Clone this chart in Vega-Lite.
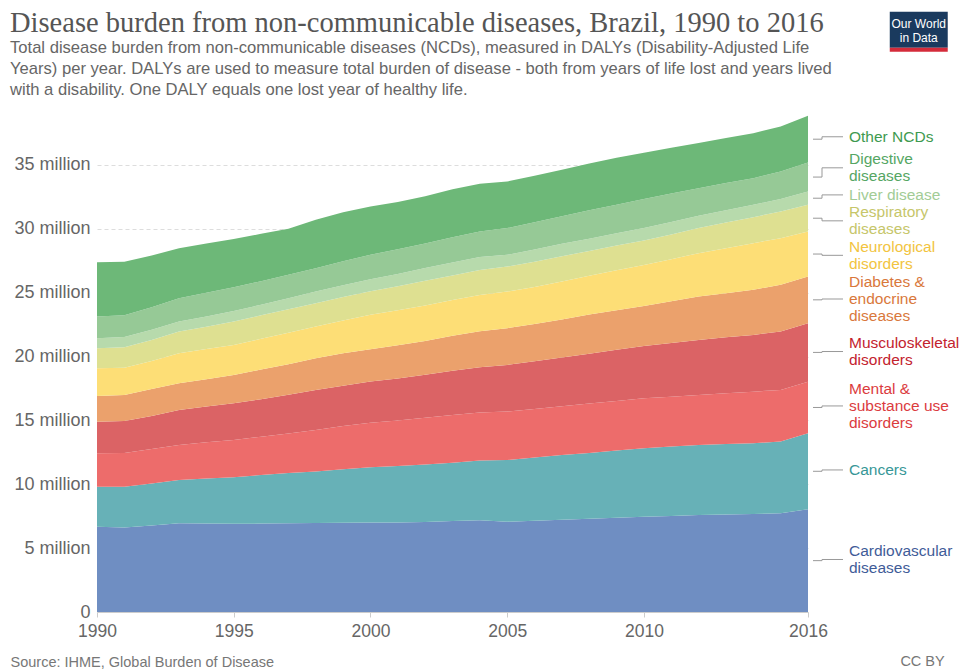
{
  "$schema": "https://vega.github.io/schema/vega-lite/v6.json",
  "width": 711,
  "height": 511,
  "autosize": {"type": "none"},
  "padding": {"left": 97, "top": 101, "right": 154, "bottom": 57},
  "background": "white",
  "config": {"view": {"stroke": null}, "font": "Liberation Sans"},
  "title": {
    "text": "Disease burden from non-communicable diseases, Brazil, 1990 to 2016",
    "subtitle": [
      "Total disease burden from non-communicable diseases (NCDs), measured in DALYs (Disability-Adjusted Life",
      "Years) per year. DALYs are used to measure total burden of disease - both from years of life lost and years lived",
      "with a disability. One DALY equals one lost year of healthy life."
    ],
    "anchor": "start",
    "frame": "group",
    "dx": -87,
    "dy": 93,
    "offset": 6,
    "font": "Liberation Serif",
    "fontSize": 28.5,
    "fontWeight": "normal",
    "color": "#555555",
    "subtitleFont": "Liberation Sans",
    "subtitleFontSize": 16.6,
    "subtitleColor": "#666666",
    "subtitleLineHeight": 21,
    "subtitlePadding": 3
  },
  "datasets": {
    "burden": [
      {"year":1990,"cause":"Cardiovascular diseases","dalys":6.68},{"year":1990,"cause":"Cancers","dalys":3.13},{"year":1990,"cause":"Mental & substance use disorders","dalys":2.62},{"year":1990,"cause":"Musculoskeletal disorders","dalys":2.47},{"year":1990,"cause":"Diabetes & endocrine diseases","dalys":2.01},{"year":1990,"cause":"Neurological disorders","dalys":2.17},{"year":1990,"cause":"Respiratory diseases","dalys":1.57},{"year":1990,"cause":"Liver disease","dalys":0.78},{"year":1990,"cause":"Digestive diseases","dalys":1.70},{"year":1990,"cause":"Other NCDs","dalys":4.25},
      {"year":1991,"cause":"Cardiovascular diseases","dalys":6.62},{"year":1991,"cause":"Cancers","dalys":3.18},{"year":1991,"cause":"Mental & substance use disorders","dalys":2.65},{"year":1991,"cause":"Musculoskeletal disorders","dalys":2.50},{"year":1991,"cause":"Diabetes & endocrine diseases","dalys":2.03},{"year":1991,"cause":"Neurological disorders","dalys":2.14},{"year":1991,"cause":"Respiratory diseases","dalys":1.60},{"year":1991,"cause":"Liver disease","dalys":0.80},{"year":1991,"cause":"Digestive diseases","dalys":1.70},{"year":1991,"cause":"Other NCDs","dalys":4.20},
      {"year":1992,"cause":"Cardiovascular diseases","dalys":6.78},{"year":1992,"cause":"Cancers","dalys":3.27},{"year":1992,"cause":"Mental & substance use disorders","dalys":2.70},{"year":1992,"cause":"Musculoskeletal disorders","dalys":2.60},{"year":1992,"cause":"Diabetes & endocrine diseases","dalys":2.10},{"year":1992,"cause":"Neurological disorders","dalys":2.20},{"year":1992,"cause":"Respiratory diseases","dalys":1.65},{"year":1992,"cause":"Liver disease","dalys":0.80},{"year":1992,"cause":"Digestive diseases","dalys":1.75},{"year":1992,"cause":"Other NCDs","dalys":4.05},
      {"year":1993,"cause":"Cardiovascular diseases","dalys":6.95},{"year":1993,"cause":"Cancers","dalys":3.39},{"year":1993,"cause":"Mental & substance use disorders","dalys":2.74},{"year":1993,"cause":"Musculoskeletal disorders","dalys":2.74},{"year":1993,"cause":"Diabetes & endocrine diseases","dalys":2.09},{"year":1993,"cause":"Neurological disorders","dalys":2.35},{"year":1993,"cause":"Respiratory diseases","dalys":1.69},{"year":1993,"cause":"Liver disease","dalys":0.78},{"year":1993,"cause":"Digestive diseases","dalys":1.83},{"year":1993,"cause":"Other NCDs","dalys":3.92},
      {"year":1994,"cause":"Cardiovascular diseases","dalys":6.92},{"year":1994,"cause":"Cancers","dalys":3.53},{"year":1994,"cause":"Mental & substance use disorders","dalys":2.83},{"year":1994,"cause":"Musculoskeletal disorders","dalys":2.80},{"year":1994,"cause":"Diabetes & endocrine diseases","dalys":2.14},{"year":1994,"cause":"Neurological disorders","dalys":2.36},{"year":1994,"cause":"Respiratory diseases","dalys":1.75},{"year":1994,"cause":"Liver disease","dalys":0.81},{"year":1994,"cause":"Digestive diseases","dalys":1.86},{"year":1994,"cause":"Other NCDs","dalys":3.85},
      {"year":1995,"cause":"Cardiovascular diseases","dalys":6.90},{"year":1995,"cause":"Cancers","dalys":3.65},{"year":1995,"cause":"Mental & substance use disorders","dalys":2.92},{"year":1995,"cause":"Musculoskeletal disorders","dalys":2.87},{"year":1995,"cause":"Diabetes & endocrine diseases","dalys":2.22},{"year":1995,"cause":"Neurological disorders","dalys":2.35},{"year":1995,"cause":"Respiratory diseases","dalys":1.82},{"year":1995,"cause":"Liver disease","dalys":0.84},{"year":1995,"cause":"Digestive diseases","dalys":1.86},{"year":1995,"cause":"Other NCDs","dalys":3.77},
      {"year":1996,"cause":"Cardiovascular diseases","dalys":6.92},{"year":1996,"cause":"Cancers","dalys":3.80},{"year":1996,"cause":"Mental & substance use disorders","dalys":3.00},{"year":1996,"cause":"Musculoskeletal disorders","dalys":2.94},{"year":1996,"cause":"Diabetes & endocrine diseases","dalys":2.32},{"year":1996,"cause":"Neurological disorders","dalys":2.40},{"year":1996,"cause":"Respiratory diseases","dalys":1.84},{"year":1996,"cause":"Liver disease","dalys":0.83},{"year":1996,"cause":"Digestive diseases","dalys":1.85},{"year":1996,"cause":"Other NCDs","dalys":3.70},
      {"year":1997,"cause":"Cardiovascular diseases","dalys":6.94},{"year":1997,"cause":"Cancers","dalys":3.94},{"year":1997,"cause":"Mental & substance use disorders","dalys":3.10},{"year":1997,"cause":"Musculoskeletal disorders","dalys":3.02},{"year":1997,"cause":"Diabetes & endocrine diseases","dalys":2.40},{"year":1997,"cause":"Neurological disorders","dalys":2.45},{"year":1997,"cause":"Respiratory diseases","dalys":1.85},{"year":1997,"cause":"Liver disease","dalys":0.85},{"year":1997,"cause":"Digestive diseases","dalys":1.85},{"year":1997,"cause":"Other NCDs","dalys":3.60},
      {"year":1998,"cause":"Cardiovascular diseases","dalys":6.97},{"year":1998,"cause":"Cancers","dalys":4.03},{"year":1998,"cause":"Mental & substance use disorders","dalys":3.25},{"year":1998,"cause":"Musculoskeletal disorders","dalys":3.13},{"year":1998,"cause":"Diabetes & endocrine diseases","dalys":2.49},{"year":1998,"cause":"Neurological disorders","dalys":2.47},{"year":1998,"cause":"Respiratory diseases","dalys":1.83},{"year":1998,"cause":"Liver disease","dalys":0.91},{"year":1998,"cause":"Digestive diseases","dalys":1.83},{"year":1998,"cause":"Other NCDs","dalys":3.79},
      {"year":1999,"cause":"Cardiovascular diseases","dalys":6.98},{"year":1999,"cause":"Cancers","dalys":4.20},{"year":1999,"cause":"Mental & substance use disorders","dalys":3.37},{"year":1999,"cause":"Musculoskeletal disorders","dalys":3.17},{"year":1999,"cause":"Diabetes & endocrine diseases","dalys":2.53},{"year":1999,"cause":"Neurological disorders","dalys":2.57},{"year":1999,"cause":"Respiratory diseases","dalys":1.83},{"year":1999,"cause":"Liver disease","dalys":0.93},{"year":1999,"cause":"Digestive diseases","dalys":1.87},{"year":1999,"cause":"Other NCDs","dalys":3.85},
      {"year":2000,"cause":"Cardiovascular diseases","dalys":7.00},{"year":2000,"cause":"Cancers","dalys":4.33},{"year":2000,"cause":"Mental & substance use disorders","dalys":3.49},{"year":2000,"cause":"Musculoskeletal disorders","dalys":3.22},{"year":2000,"cause":"Diabetes & endocrine diseases","dalys":2.53},{"year":2000,"cause":"Neurological disorders","dalys":2.69},{"year":2000,"cause":"Respiratory diseases","dalys":1.85},{"year":2000,"cause":"Liver disease","dalys":0.94},{"year":2000,"cause":"Digestive diseases","dalys":1.91},{"year":2000,"cause":"Other NCDs","dalys":3.78},
      {"year":2001,"cause":"Cardiovascular diseases","dalys":7.00},{"year":2001,"cause":"Cancers","dalys":4.42},{"year":2001,"cause":"Mental & substance use disorders","dalys":3.58},{"year":2001,"cause":"Musculoskeletal disorders","dalys":3.28},{"year":2001,"cause":"Diabetes & endocrine diseases","dalys":2.60},{"year":2001,"cause":"Neurological disorders","dalys":2.74},{"year":2001,"cause":"Respiratory diseases","dalys":1.88},{"year":2001,"cause":"Liver disease","dalys":0.95},{"year":2001,"cause":"Digestive diseases","dalys":1.95},{"year":2001,"cause":"Other NCDs","dalys":3.70},
      {"year":2002,"cause":"Cardiovascular diseases","dalys":7.05},{"year":2002,"cause":"Cancers","dalys":4.50},{"year":2002,"cause":"Mental & substance use disorders","dalys":3.65},{"year":2002,"cause":"Musculoskeletal disorders","dalys":3.38},{"year":2002,"cause":"Diabetes & endocrine diseases","dalys":2.64},{"year":2002,"cause":"Neurological disorders","dalys":2.78},{"year":2002,"cause":"Respiratory diseases","dalys":1.92},{"year":2002,"cause":"Liver disease","dalys":1.00},{"year":2002,"cause":"Digestive diseases","dalys":1.93},{"year":2002,"cause":"Other NCDs","dalys":3.70},
      {"year":2003,"cause":"Cardiovascular diseases","dalys":7.12},{"year":2003,"cause":"Cancers","dalys":4.56},{"year":2003,"cause":"Mental & substance use disorders","dalys":3.74},{"year":2003,"cause":"Musculoskeletal disorders","dalys":3.46},{"year":2003,"cause":"Diabetes & endocrine diseases","dalys":2.74},{"year":2003,"cause":"Neurological disorders","dalys":2.80},{"year":2003,"cause":"Respiratory diseases","dalys":1.93},{"year":2003,"cause":"Liver disease","dalys":1.00},{"year":2003,"cause":"Digestive diseases","dalys":1.98},{"year":2003,"cause":"Other NCDs","dalys":3.77},
      {"year":2004,"cause":"Cardiovascular diseases","dalys":7.18},{"year":2004,"cause":"Cancers","dalys":4.67},{"year":2004,"cause":"Mental & substance use disorders","dalys":3.77},{"year":2004,"cause":"Musculoskeletal disorders","dalys":3.54},{"year":2004,"cause":"Diabetes & endocrine diseases","dalys":2.81},{"year":2004,"cause":"Neurological disorders","dalys":2.85},{"year":2004,"cause":"Respiratory diseases","dalys":1.96},{"year":2004,"cause":"Liver disease","dalys":1.00},{"year":2004,"cause":"Digestive diseases","dalys":2.00},{"year":2004,"cause":"Other NCDs","dalys":3.74},
      {"year":2005,"cause":"Cardiovascular diseases","dalys":7.07},{"year":2005,"cause":"Cancers","dalys":4.83},{"year":2005,"cause":"Mental & substance use disorders","dalys":3.79},{"year":2005,"cause":"Musculoskeletal disorders","dalys":3.65},{"year":2005,"cause":"Diabetes & endocrine diseases","dalys":2.88},{"year":2005,"cause":"Neurological disorders","dalys":2.86},{"year":2005,"cause":"Respiratory diseases","dalys":1.96},{"year":2005,"cause":"Liver disease","dalys":0.92},{"year":2005,"cause":"Digestive diseases","dalys":2.09},{"year":2005,"cause":"Other NCDs","dalys":3.65},
      {"year":2006,"cause":"Cardiovascular diseases","dalys":7.15},{"year":2006,"cause":"Cancers","dalys":4.95},{"year":2006,"cause":"Mental & substance use disorders","dalys":3.80},{"year":2006,"cause":"Musculoskeletal disorders","dalys":3.72},{"year":2006,"cause":"Diabetes & endocrine diseases","dalys":2.93},{"year":2006,"cause":"Neurological disorders","dalys":2.90},{"year":2006,"cause":"Respiratory diseases","dalys":1.97},{"year":2006,"cause":"Liver disease","dalys":0.96},{"year":2006,"cause":"Digestive diseases","dalys":2.12},{"year":2006,"cause":"Other NCDs","dalys":3.65},
      {"year":2007,"cause":"Cardiovascular diseases","dalys":7.22},{"year":2007,"cause":"Cancers","dalys":5.06},{"year":2007,"cause":"Mental & substance use disorders","dalys":3.82},{"year":2007,"cause":"Musculoskeletal disorders","dalys":3.82},{"year":2007,"cause":"Diabetes & endocrine diseases","dalys":2.98},{"year":2007,"cause":"Neurological disorders","dalys":2.98},{"year":2007,"cause":"Respiratory diseases","dalys":1.97},{"year":2007,"cause":"Liver disease","dalys":0.97},{"year":2007,"cause":"Digestive diseases","dalys":2.16},{"year":2007,"cause":"Other NCDs","dalys":3.64},
      {"year":2008,"cause":"Cardiovascular diseases","dalys":7.30},{"year":2008,"cause":"Cancers","dalys":5.15},{"year":2008,"cause":"Mental & substance use disorders","dalys":3.87},{"year":2008,"cause":"Musculoskeletal disorders","dalys":3.90},{"year":2008,"cause":"Diabetes & endocrine diseases","dalys":3.06},{"year":2008,"cause":"Neurological disorders","dalys":3.04},{"year":2008,"cause":"Respiratory diseases","dalys":1.93},{"year":2008,"cause":"Liver disease","dalys":0.97},{"year":2008,"cause":"Digestive diseases","dalys":2.23},{"year":2008,"cause":"Other NCDs","dalys":3.65},
      {"year":2009,"cause":"Cardiovascular diseases","dalys":7.38},{"year":2009,"cause":"Cancers","dalys":5.27},{"year":2009,"cause":"Mental & substance use disorders","dalys":3.87},{"year":2009,"cause":"Musculoskeletal disorders","dalys":4.00},{"year":2009,"cause":"Diabetes & endocrine diseases","dalys":3.10},{"year":2009,"cause":"Neurological disorders","dalys":3.13},{"year":2009,"cause":"Respiratory diseases","dalys":1.93},{"year":2009,"cause":"Liver disease","dalys":0.97},{"year":2009,"cause":"Digestive diseases","dalys":2.23},{"year":2009,"cause":"Other NCDs","dalys":3.67},
      {"year":2010,"cause":"Cardiovascular diseases","dalys":7.46},{"year":2010,"cause":"Cancers","dalys":5.36},{"year":2010,"cause":"Mental & substance use disorders","dalys":3.91},{"year":2010,"cause":"Musculoskeletal disorders","dalys":4.10},{"year":2010,"cause":"Diabetes & endocrine diseases","dalys":3.13},{"year":2010,"cause":"Neurological disorders","dalys":3.21},{"year":2010,"cause":"Respiratory diseases","dalys":1.91},{"year":2010,"cause":"Liver disease","dalys":0.97},{"year":2010,"cause":"Digestive diseases","dalys":2.27},{"year":2010,"cause":"Other NCDs","dalys":3.63},
      {"year":2011,"cause":"Cardiovascular diseases","dalys":7.52},{"year":2011,"cause":"Cancers","dalys":5.43},{"year":2011,"cause":"Mental & substance use disorders","dalys":3.90},{"year":2011,"cause":"Musculoskeletal disorders","dalys":4.20},{"year":2011,"cause":"Diabetes & endocrine diseases","dalys":3.27},{"year":2011,"cause":"Neurological disorders","dalys":3.30},{"year":2011,"cause":"Respiratory diseases","dalys":1.93},{"year":2011,"cause":"Liver disease","dalys":0.97},{"year":2011,"cause":"Digestive diseases","dalys":2.23},{"year":2011,"cause":"Other NCDs","dalys":3.60},
      {"year":2012,"cause":"Cardiovascular diseases","dalys":7.60},{"year":2012,"cause":"Cancers","dalys":5.48},{"year":2012,"cause":"Mental & substance use disorders","dalys":3.91},{"year":2012,"cause":"Musculoskeletal disorders","dalys":4.31},{"year":2012,"cause":"Diabetes & endocrine diseases","dalys":3.39},{"year":2012,"cause":"Neurological disorders","dalys":3.40},{"year":2012,"cause":"Respiratory diseases","dalys":1.96},{"year":2012,"cause":"Liver disease","dalys":0.96},{"year":2012,"cause":"Digestive diseases","dalys":2.17},{"year":2012,"cause":"Other NCDs","dalys":3.53},
      {"year":2013,"cause":"Cardiovascular diseases","dalys":7.63},{"year":2013,"cause":"Cancers","dalys":5.52},{"year":2013,"cause":"Mental & substance use disorders","dalys":3.97},{"year":2013,"cause":"Musculoskeletal disorders","dalys":4.38},{"year":2013,"cause":"Diabetes & endocrine diseases","dalys":3.45},{"year":2013,"cause":"Neurological disorders","dalys":3.53},{"year":2013,"cause":"Respiratory diseases","dalys":2.00},{"year":2013,"cause":"Liver disease","dalys":0.97},{"year":2013,"cause":"Digestive diseases","dalys":2.13},{"year":2013,"cause":"Other NCDs","dalys":3.52},
      {"year":2014,"cause":"Cardiovascular diseases","dalys":7.67},{"year":2014,"cause":"Cancers","dalys":5.54},{"year":2014,"cause":"Mental & substance use disorders","dalys":4.04},{"year":2014,"cause":"Musculoskeletal disorders","dalys":4.44},{"year":2014,"cause":"Diabetes & endocrine diseases","dalys":3.53},{"year":2014,"cause":"Neurological disorders","dalys":3.65},{"year":2014,"cause":"Respiratory diseases","dalys":2.04},{"year":2014,"cause":"Liver disease","dalys":0.96},{"year":2014,"cause":"Digestive diseases","dalys":2.09},{"year":2014,"cause":"Other NCDs","dalys":3.52},
      {"year":2015,"cause":"Cardiovascular diseases","dalys":7.73},{"year":2015,"cause":"Cancers","dalys":5.61},{"year":2015,"cause":"Mental & substance use disorders","dalys":4.04},{"year":2015,"cause":"Musculoskeletal disorders","dalys":4.57},{"year":2015,"cause":"Diabetes & endocrine diseases","dalys":3.66},{"year":2015,"cause":"Neurological disorders","dalys":3.65},{"year":2015,"cause":"Respiratory diseases","dalys":2.09},{"year":2015,"cause":"Liver disease","dalys":0.97},{"year":2015,"cause":"Digestive diseases","dalys":2.16},{"year":2015,"cause":"Other NCDs","dalys":3.52},
      {"year":2016,"cause":"Cardiovascular diseases","dalys":8.04},{"year":2016,"cause":"Cancers","dalys":5.95},{"year":2016,"cause":"Mental & substance use disorders","dalys":4.04},{"year":2016,"cause":"Musculoskeletal disorders","dalys":4.58},{"year":2016,"cause":"Diabetes & endocrine diseases","dalys":3.65},{"year":2016,"cause":"Neurological disorders","dalys":3.52},{"year":2016,"cause":"Respiratory diseases","dalys":2.09},{"year":2016,"cause":"Liver disease","dalys":1.04},{"year":2016,"cause":"Digestive diseases","dalys":2.27},{"year":2016,"cause":"Other NCDs","dalys":3.66}
    ],
    "keys": [
      {"cause":"Other NCDs","label":"Other NCDs","lines":1,"at":37.2},
      {"cause":"Digestive diseases","label":"Digestive\ndiseases","lines":2,"at":34.77},
      {"cause":"Liver disease","label":"Liver disease","lines":1,"at":32.65},
      {"cause":"Respiratory diseases","label":"Respiratory\ndiseases","lines":2,"at":30.62},
      {"cause":"Neurological disorders","label":"Neurological\ndisorders","lines":2,"at":27.92},
      {"cause":"Diabetes & endocrine diseases","label":"Diabetes &\nendocrine\ndiseases","lines":3,"at":24.5},
      {"cause":"Musculoskeletal disorders","label":"Musculoskeletal\ndisorders","lines":2,"at":20.39},
      {"cause":"Mental & substance use disorders","label":"Mental &\nsubstance use\ndisorders","lines":3,"at":16.13},
      {"cause":"Cancers","label":"Cancers","lines":1,"at":11.12},
      {"cause":"Cardiovascular diseases","label":"Cardiovascular\ndiseases","lines":2,"at":4.11}
    ]
  },
  "layer": [
    {
      "data": {"name": "burden"},
      "transform": [
        {"calculate": "indexof(['Cardiovascular diseases','Cancers','Mental & substance use disorders','Musculoskeletal disorders','Diabetes & endocrine diseases','Neurological disorders','Respiratory diseases','Liver disease','Digestive diseases','Other NCDs'], datum.cause)", "as": "rank"}
      ],
      "mark": {"type": "area", "interpolate": "linear"},
      "encoding": {
        "x": {
          "field": "year", "type": "quantitative",
          "scale": {"domain": [1990, 2016], "nice": false, "zero": false},
          "axis": {
            "values": [1990, 1995, 2000, 2005, 2010, 2016],
            "format": "d",
            "grid": false,
            "domainColor": "#cccccc",
            "tickColor": "#cccccc",
            "tickSize": 5,
            "labelFontSize": 17.5,
            "labelColor": "#666666",
            "labelPadding": 5,
            "labelFlush": false,
            "title": "Source: IHME, Global Burden of Disease",
            "titleAnchor": "start",
            "titleAlign": "left",
            "titleX": -87,
            "titleY": 54,
            "titleBaseline": "alphabetic",
            "titleFontSize": 14.5,
            "titleFontWeight": "normal",
            "titleColor": "#777777"
          }
        },
        "y": {
          "field": "dalys", "type": "quantitative", "stack": "zero",
          "scale": {"domain": [0, 40], "nice": false},
          "axis": {
            "values": [0, 5, 10, 15, 20, 25, 30, 35],
            "labelExpr": "datum.value == 0 ? '0' : datum.value + ' million'",
            "ticks": false,
            "domain": false,
            "grid": true,
            "gridColor": "#dddddd",
            "gridDash": [4, 3],
            "labelFontSize": 18,
            "labelColor": "#666666",
            "labelPadding": 7,
            "title": null
          }
        },
        "color": {
          "field": "cause", "type": "nominal", "legend": null,
          "scale": {
            "domain": ["Cardiovascular diseases","Cancers","Mental & substance use disorders","Musculoskeletal disorders","Diabetes & endocrine diseases","Neurological disorders","Respiratory diseases","Liver disease","Digestive diseases","Other NCDs"],
            "range": ["#6F8EC2","#67B1B7","#ED6C6B","#DB6365","#EBA16C","#FDDE76","#DEE091","#B7DAAC","#96C996","#6DB878"]
          }
        },
        "order": {"field": "rank", "type": "quantitative"}
      }
    },
    {
      "data": {"name": "burden"},
      "transform": [
        {"filter": "datum.year == 2016"},
        {"calculate": "indexof(['Cardiovascular diseases','Cancers','Mental & substance use disorders','Musculoskeletal disorders','Diabetes & endocrine diseases','Neurological disorders','Respiratory diseases','Liver disease','Digestive diseases','Other NCDs'], datum.cause)", "as": "rank"},
        {"stack": "dalys", "groupby": ["year"], "sort": [{"field": "rank", "order": "ascending"}], "as": ["lo", "hi"]},
        {"calculate": "(datum.lo + datum.hi) / 2", "as": "mid"},
        {"lookup": "cause", "from": {"data": {"name": "keys"}, "key": "cause", "fields": ["label", "lines", "at"]}},
        {"calculate": "datum.at + (datum.lines - 1) * 0.665", "as": "firstLine"}
      ],
      "layer": [
        {
          "mark": {"type": "rule", "color": "#999999", "strokeWidth": 1, "xOffset": 5, "x2Offset": 14},
          "encoding": {
            "x": {"field": "year", "type": "quantitative"},
            "x2": {"field": "year"},
            "y": {"field": "mid", "type": "quantitative"}
          }
        },
        {
          "mark": {"type": "rule", "color": "#999999", "strokeWidth": 1, "xOffset": 14},
          "encoding": {
            "x": {"field": "year", "type": "quantitative"},
            "y": {"field": "mid", "type": "quantitative"},
            "y2": {"field": "at"}
          }
        },
        {
          "mark": {"type": "rule", "color": "#999999", "strokeWidth": 1, "xOffset": 14, "x2Offset": 35},
          "encoding": {
            "x": {"field": "year", "type": "quantitative"},
            "x2": {"field": "year"},
            "y": {"field": "at", "type": "quantitative"}
          }
        },
        {
          "mark": {"type": "text", "align": "left", "baseline": "middle", "xOffset": 41, "fontSize": 15.5, "lineBreak": "\n", "lineHeight": 17},
          "encoding": {
            "x": {"field": "year", "type": "quantitative"},
            "y": {"field": "firstLine", "type": "quantitative"},
            "text": {"field": "label"},
            "color": {
              "field": "cause", "type": "nominal", "legend": null,
              "scale": {
                "domain": ["Cardiovascular diseases","Cancers","Mental & substance use disorders","Musculoskeletal disorders","Diabetes & endocrine diseases","Neurological disorders","Respiratory diseases","Liver disease","Digestive diseases","Other NCDs"],
                "range": ["#3F5C98","#379797","#DB3B3E","#C3222E","#D9783B","#F2C43F","#C6C66A","#A2CC96","#55A663","#3E9A4F"]
              }
            }
          }
        }
      ]
    },
    {
      "data": {"values": [{}]},
      "layer": [
        {
          "mark": {"type": "rect", "color": "#1A3A5E"},
          "encoding": {
            "x": {"datum": 2018.99, "type": "quantitative"},
            "x2": {"datum": 2021.11},
            "y": {"datum": 46.98, "type": "quantitative"},
            "y2": {"datum": 44.17}
          }
        },
        {
          "mark": {"type": "rect", "color": "#D42B3A"},
          "encoding": {
            "x": {"datum": 2018.99, "type": "quantitative"},
            "x2": {"datum": 2021.11},
            "y": {"datum": 44.17, "type": "quantitative"},
            "y2": {"datum": 43.85}
          }
        },
        {
          "mark": {"type": "text", "color": "white", "fontSize": 12, "align": "center", "baseline": "middle", "lineBreak": "\n", "lineHeight": 14},
          "encoding": {
            "x": {"datum": 2020.05, "type": "quantitative"},
            "y": {"datum": 46.05, "type": "quantitative"},
            "text": {"value": "Our World\nin Data"}
          }
        },
        {
          "mark": {"type": "text", "color": "#777777", "fontSize": 14.5, "align": "right", "baseline": "alphabetic"},
          "encoding": {
            "x": {"datum": 2021.0, "type": "quantitative"},
            "y": {"datum": -4.23, "type": "quantitative"},
            "text": {"value": "CC BY"}
          }
        }
      ]
    }
  ],
  "resolve": {"scale": {"color": "independent"}}
}
